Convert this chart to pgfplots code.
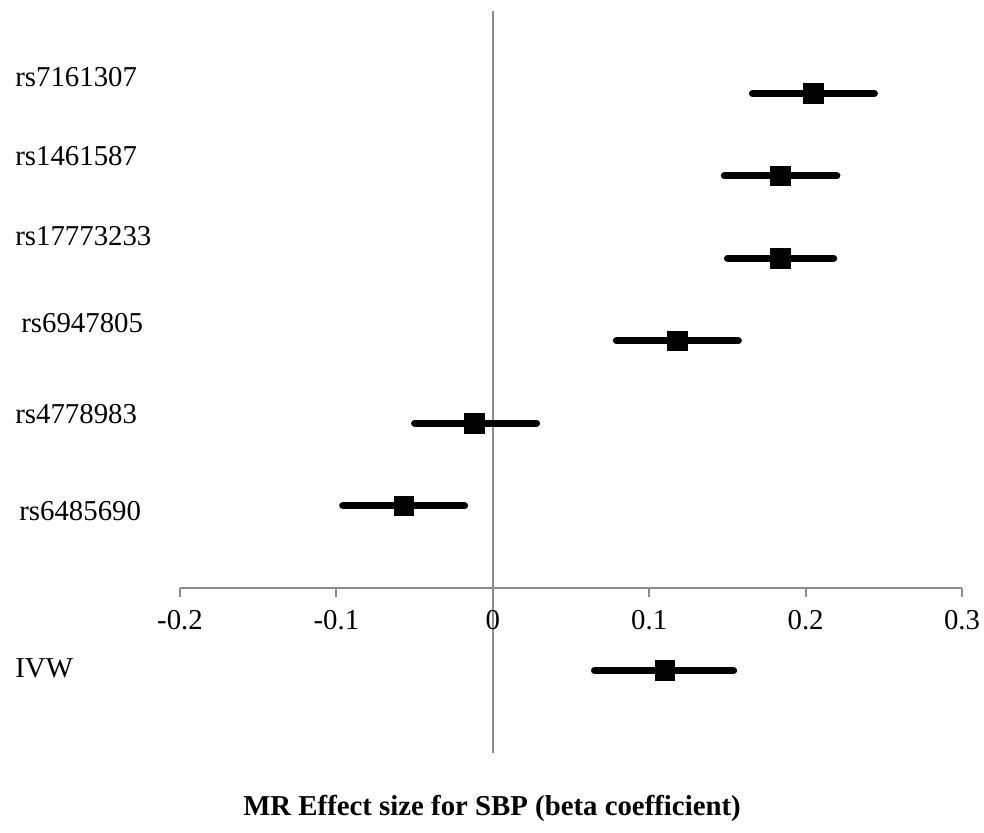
\documentclass[border=0pt]{standalone}
\usepackage{pgfplots}
\pgfplotsset{compat=1.18}
\usepackage{pgfplotstable}
\usepackage{fontspec}
\setmainfont{Liberation Serif}

\definecolor{axisgray}{RGB}{140,140,140}
\newcommand{\lblfont}{\fontsize{14.4}{17}\selectfont}

% y position, estimate, lower and upper bound
\pgfplotstableread{
y   est     lo      hi
6   0.205   0.166   0.244
5   0.184   0.148   0.220
4   0.184   0.150   0.218
3   0.118   0.079   0.157
2   -0.012  -0.050  0.028
1   -0.057  -0.096  -0.018
-1  0.110   0.065   0.154
}\mrdata

\begin{document}
\begin{tikzpicture}
\path[use as bounding box] (-90pt,-39.5pt) rectangle (402pt,376.5pt);
\begin{axis}[
    at={(0,0)}, anchor=south west,
    scale only axis,
    width=391pt, height=371pt,
    xmin=-0.2, xmax=0.3,
    ymin=-2, ymax=7,
    axis lines=middle,
    axis line style={-, draw=axisgray, line width=1pt},
    xtick={-0.2,-0.1,0,0.1,0.2,0.3},
    ytick=\empty,
    hide obscured x ticks=false,
    tick align=outside,
    major tick length=4.5pt,
    xtick style={draw=axisgray, line width=1pt},
    /pgf/number format/assume math mode=true,
    xticklabel style={font=\lblfont, yshift=-3pt},
    clip=false,
]
\addplot[draw=none, forget plot,
    error bars/.cd, x dir=both, x explicit, error mark=none,
    error bar style={line width=3.5pt, line cap=round, black}]
    table[x=est, y=y,
          x error plus expr=\thisrow{hi}-\thisrow{est},
          x error minus expr=\thisrow{est}-\thisrow{lo}] {\mrdata};
\addplot[only marks, mark=square*, mark size=4.9pt,
    mark options={fill=black, draw=black, line width=0.3pt, rounded corners=0.6pt}]
    table[x=est, y=y] {\mrdata};
\end{axis}
\begin{scope}[font=\lblfont]
\node[anchor=base west, inner sep=0pt] at (-82.5pt,333pt) {rs7161307};
\node[anchor=base west, inner sep=0pt] at (-82.5pt,294pt) {rs1461587};
\node[anchor=base west, inner sep=0pt] at (-82.5pt,254pt) {rs17773233};
\node[anchor=base west, inner sep=0pt] at (-79.5pt,210.5pt) {rs6947805};
\node[anchor=base west, inner sep=0pt] at (-82.5pt,165pt) {rs4778983};
\node[anchor=base west, inner sep=0pt] at (-80.5pt,116.5pt) {rs6485690};
\node[anchor=base west, inner sep=0pt] at (-82.5pt,38pt) {IVW};
\node[anchor=base, inner sep=0pt] at (156pt,-31pt) {\bfseries MR Effect size for SBP (beta coefficient)};
\end{scope}
\end{tikzpicture}
\end{document}
